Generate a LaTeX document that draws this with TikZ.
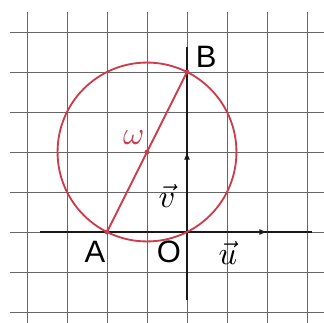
\documentclass[tikz,border=0pt]{standalone}
\usepackage{graphicx}
\usepackage{fontspec}
\setmainfont{Liberation Sans}
\usetikzlibrary{arrows}
\definecolor{circred}{RGB}{205,60,75}
\tikzstyle{gridline}=[draw=black!60,line width=0.7pt]
\tikzstyle{axis}=[draw=black!90,line width=0.9pt]
\tikzstyle{vect}=[axis,-latex]
\tikzstyle{redline}=[draw=circred,line width=1.3pt]
\tikzstyle{pt}=[circle,fill=circred,inner sep=0pt,minimum size=3.5pt]
\tikzstyle{lbl}=[font=\fontsize{22}{24}\selectfont,inner sep=0pt]
\newcommand{\bigmath}[1]{\scalebox{2.3}{$#1$}}

\begin{document}
\begin{tikzpicture}
\useasboundingbox (-4.675,-2.275) rectangle (3.425,5.8);
% grid
\foreach \i in {-4,...,3}
  \draw[gridline] (\i,-2.275) -- (\i,5.5);
\foreach \j in {-2,...,5}
  \draw[gridline] (-4.43,\j) -- (3.425,\j);
% axes
\coordinate (O) at (0,0);
\coordinate (xs) at (-3.67,0);
\coordinate (xe) at (3.12,0);
\coordinate (ys) at (0,-1.7);
\coordinate (ye) at (0,4.62);
\coordinate (I) at (2,0);
\coordinate (J) at (0,2);
\draw[axis] (xs) -- (xe);
\draw[axis] (ys) -- (ye);
\draw[vect] (O) -- (I);
\draw[vect] (O) -- (J);
% circle and diameter
\node[pt] (A) at (-2,0) {};
\node[pt] (B) at (0,4) {};
\node[pt] (w) at (-1,2) {};
\draw[redline] (w) circle ({sqrt(5)});
\draw[redline] (A.center) -- (B.center);
% labels
\node[lbl] (la) at (-2.3,-0.5) {A};
\node[lbl] (lb) at (0.48,4.38) {B};
\node[lbl] (lo) at (-0.45,-0.5) {O};
\node[inner sep=0pt,text=circred] (lw) at (-1.33,2.35) {\bigmath{\omega}};
\node[inner sep=0pt] (lv) at (-0.5,0.9) {\bigmath{\vec{v}}};
\node[inner sep=0pt] (lu) at (1.02,-0.52) {\bigmath{\vec{u}}};
\end{tikzpicture}
\end{document}
